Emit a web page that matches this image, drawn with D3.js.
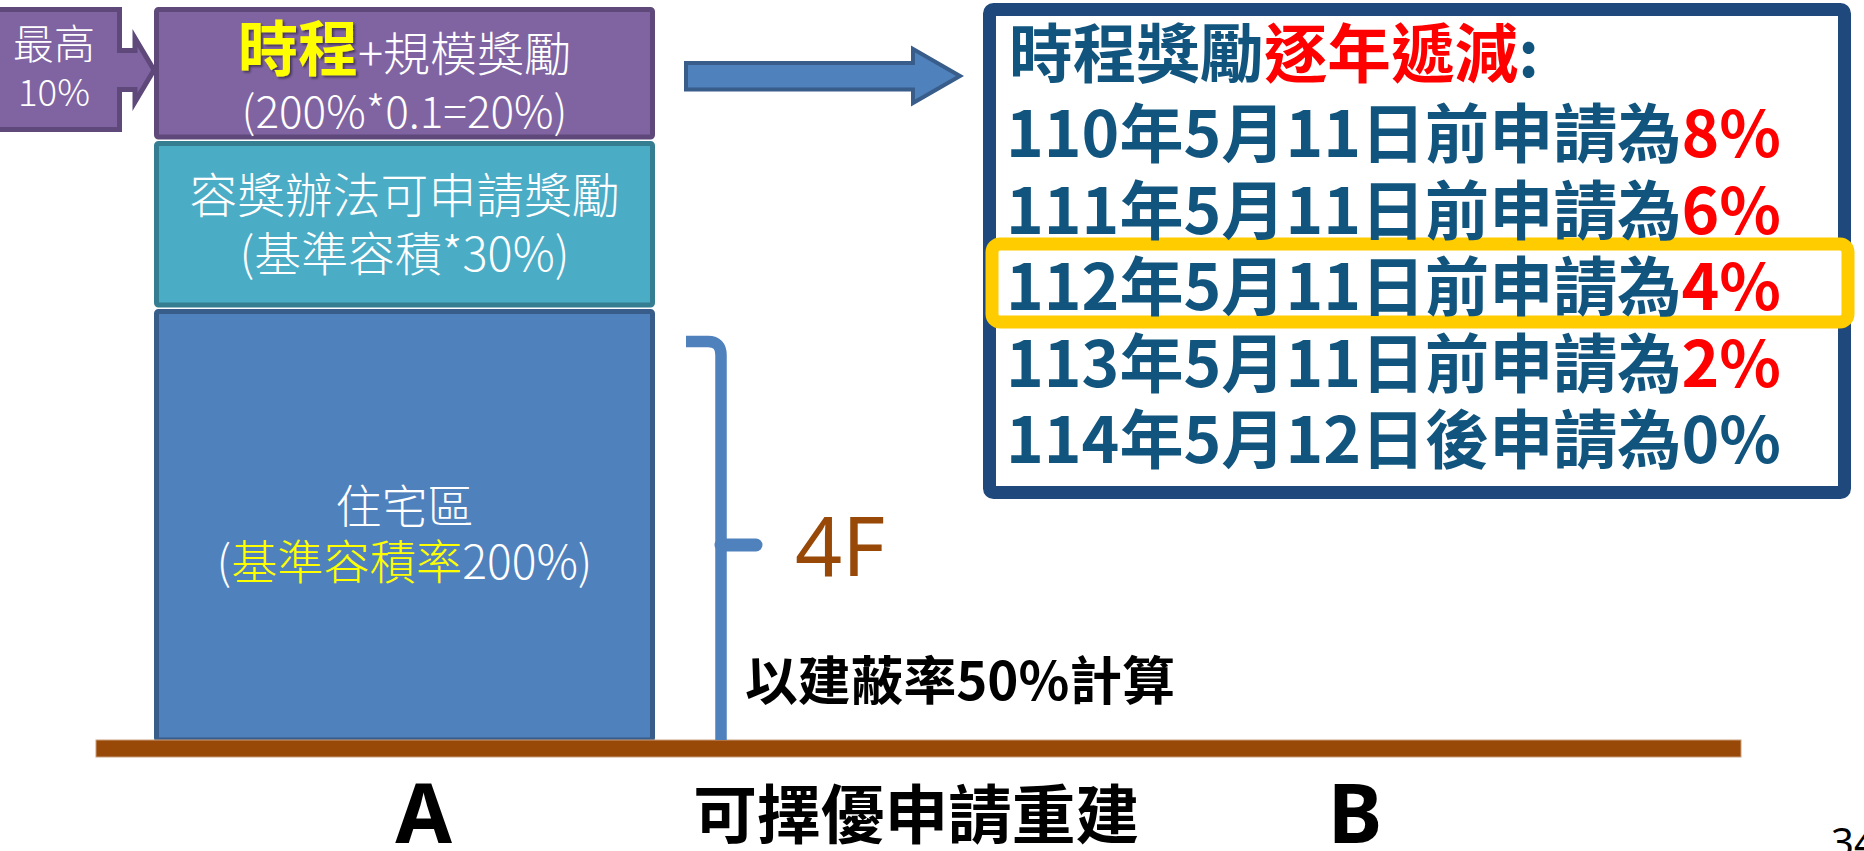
<!DOCTYPE html>
<html>
<head>
<meta charset="utf-8">
<script src="https://cdn.jsdelivr.net/npm/d3@7"></script>
<style>
  html, body { margin: 0; padding: 0; background: #fff; overflow: hidden; }
  svg { display: block; }
</style>
</head>
<body>
<div id="chart"></div>
<script>
// floor-area stack for site A (percent of base FAR)
const blockNames = ["住宅區", "容獎辦法可申請獎勵", "規模獎勵"];
const blockValues = [200, 30, 20];
const timeBonusFactor = 0.1;
const maxTimeBonus = 10;

// time-bonus schedule (ROC year)
const schedYears = [110, 111, 112, 113, 114];
const schedDays = ["5月11日", "5月11日", "5月11日", "5月11日", "5月12日"];
const schedWhen = ["前", "前", "前", "前", "後"];
const schedRates = [8, 6, 4, 2, 0];
const currentYear = 112;

const sites = ["A", "B"];
const floors = 4;
const coverage = 50;

const W = 1864, H = 851;
const cjk = "'Noto Sans CJK TC', 'Noto Sans CJK SC', sans-serif";
const txtBlue = "#11557f";

const svg = d3.select("#chart").append("svg")
  .attr("width", W).attr("height", H)
  .style("font-family", cjk);

const defs = svg.append("defs");
defs.append("filter").attr("id", "shadow")
  .append("feDropShadow")
  .attr("dx", 2).attr("dy", 2).attr("stdDeviation", 1)
  .attr("flood-color", "#000").attr("flood-opacity", 0.45);

// shrink or grow a text to a target width
function fit(sel, target) {
  const w = sel.node().getComputedTextLength();
  const fs = parseFloat(sel.attr("font-size"));
  sel.attr("font-size", fs * target / w);
  return sel;
}

// ---- stacked block ----
const cum = [0];
blockValues.forEach((v, i) => cum.push(cum[i] + v));
// piecewise scale: each segment gets its own drawing height
const y = d3.scaleLinear().domain(cum).range([744, 309, 141, 7]);
const x = d3.scalePoint().domain(sites).range([423.5, 1355]);
const stackX0 = 154, stackX1 = 655;
const sw = 5, gap = 1.5;

const fills = ["#4f81bd", "#4bacc6", "#8064a2"];
const strokes = ["#385d8a", "#357d91", "#5f497a"];

const blocks = blockValues.map((v, i) => ({
  name: blockNames[i], v, top: y(cum[i] + v), bot: y(cum[i])
}));

svg.append("g").selectAll("rect").data(blocks).join("rect")
  .attr("x", stackX0 + sw / 2)
  .attr("y", d => d.top + sw / 2)
  .attr("width", stackX1 - stackX0 - sw)
  .attr("height", d => d.bot - d.top - gap - sw)
  .attr("rx", 2)
  .attr("fill", (d, i) => fills[i])
  .attr("stroke", (d, i) => strokes[i])
  .attr("stroke-width", sw);

const cx = (stackX0 + stackX1) / 2;
const mid = d => (blocks[d].top + blocks[d].bot) / 2;
const light = g => g.attr("fill", "#fff").attr("font-weight", 300).attr("text-anchor", "middle");

// base block
let t = light(svg.append("text")).attr("x", cx).attr("y", mid(0) - 4).attr("font-size", 46)
  .text(blockNames[0]);
fit(t, 138);
t = light(svg.append("text")).attr("x", cx).attr("y", mid(0) + 52).attr("font-size", 46);
t.append("tspan").text("(");
t.append("tspan").attr("fill", "#ffff00").text("基準容積率");
t.append("tspan").text(blockValues[0] + "%)");
fit(t, 376);

// FAR bonus block
t = light(svg.append("text")).attr("x", cx).attr("y", mid(1) - 12).attr("font-size", 47)
  .text(blockNames[1]);
fit(t, 430);
t = light(svg.append("text")).attr("x", cx).attr("y", mid(1) + 46).attr("font-size", 47)
  .text("(基準容積*" + blockValues[1] + "%)");
fit(t, 330);

// time + scale bonus block
t = light(svg.append("text")).attr("x", cx).attr("y", mid(2) - 3);
t.append("tspan").attr("font-size", 60).attr("font-weight", 700).attr("fill", "#ffff00")
  .attr("filter", "url(#shadow)").text("時程");
t.append("tspan").attr("font-size", 47).text("+" + blockNames[2]);
t = light(svg.append("text")).attr("x", cx).attr("y", mid(2) + 54).attr("font-size", 43)
  .text("(" + blockValues[0] + "%*" + timeBonusFactor + "=" + blockValues[2] + "%)");
fit(t, 326);

// "max 10%" tag with arrow into the stack
const tag = d3.path();
tag.moveTo(-10, 9.5); tag.lineTo(119.5, 9.5); tag.lineTo(119.5, 50.5);
tag.lineTo(135, 50.5); tag.lineTo(135, 38); tag.lineTo(154, 70);
tag.lineTo(135, 102); tag.lineTo(135, 89.5); tag.lineTo(119.5, 89.5);
tag.lineTo(119.5, 129.5); tag.lineTo(-10, 129.5); tag.closePath();
svg.append("path").attr("d", tag.toString())
  .attr("fill", "#8064a2").attr("stroke", "#5f497a").attr("stroke-width", 5)
  .attr("stroke-linejoin", "miter");
t = light(svg.append("text")).attr("x", 54).attr("y", 59).attr("font-size", 42).text("最高");
fit(t, 82);
t = light(svg.append("text")).attr("x", 54).attr("y", 106).attr("font-size", 38).text(maxTimeBonus + "%");
fit(t, 72);

// ---- ground ----
svg.append("rect").attr("x", 96).attr("y", 740).attr("width", 1645).attr("height", 17)
  .attr("fill", "#984807").attr("stroke", "#c99e7e").attr("stroke-width", 1);

// brace for building height
const br = d3.path();
br.moveTo(686, 341.5); br.lineTo(708, 341.5);
br.quadraticCurveTo(721, 341.5, 721, 355);
br.lineTo(721, 740);
svg.append("path").attr("d", br.toString()).attr("fill", "none")
  .attr("stroke", "#4f81bd").attr("stroke-width", 11.5);
svg.append("path").attr("d", "M721,545 C730,545 735,545 756,545")
  .attr("fill", "none").attr("stroke", "#4f81bd").attr("stroke-width", 13)
  .attr("stroke-linecap", "round");

t = svg.append("text").attr("x", 840).attr("y", 576).attr("text-anchor", "middle")
  .attr("font-family", "'Noto Sans', sans-serif").attr("font-size", 86)
  .attr("fill", "#984807").text(floors + "F");
fit(t, 90);

t = svg.append("text").attr("x", 745).attr("y", 700).attr("font-size", 52)
  .attr("font-weight", 700).attr("fill", "#000")
  .text("以建蔽率" + coverage + "%計算");
fit(t, 430);

// site labels
svg.append("g").selectAll("text").data(sites).join("text")
  .attr("x", d => x(d)).attr("y", 843).attr("text-anchor", "middle")
  .attr("font-family", "'Noto Sans', 'DejaVu Sans', sans-serif")
  .attr("font-size", 82).attr("font-weight", 700).attr("fill", "#000")
  .text(d => d);
t = svg.append("text").attr("x", (x("A") + x("B")) / 2 + 27).attr("y", 838)
  .attr("text-anchor", "middle").attr("font-size", 62).attr("font-weight", 700)
  .attr("fill", "#000").text("可擇優申請重建");
fit(t, 446);

svg.append("text").attr("x", 1831).attr("y", 857).attr("font-size", 40)
  .attr("font-family", "'Noto Sans', sans-serif").attr("fill", "#000").text("34");

// ---- arrow to schedule ----
const ar = d3.path();
ar.moveTo(686, 63); ar.lineTo(913, 63); ar.lineTo(913, 49); ar.lineTo(960, 76);
ar.lineTo(913, 103); ar.lineTo(913, 89.5); ar.lineTo(686, 89.5); ar.closePath();
svg.append("path").attr("d", ar.toString())
  .attr("fill", "#4f81bd").attr("stroke", "#385d8a").attr("stroke-width", 4);

// ---- schedule panel ----
svg.append("rect").attr("x", 989.5).attr("y", 9.5).attr("width", 855).attr("height", 483)
  .attr("rx", 4).attr("fill", "#fff").attr("stroke", "#1f497d").attr("stroke-width", 13);

const rowY = d3.scalePoint().domain(schedYears).range([157, 463]);

svg.append("rect")
  .attr("x", 992).attr("y", rowY(currentYear) - 66)
  .attr("width", 856).attr("height", 78).attr("rx", 8)
  .attr("fill", "#fff").attr("stroke", "#ffcc00").attr("stroke-width", 13);

t = svg.append("text").attr("x", 1009).attr("y", 77).attr("font-size", 63)
  .attr("font-weight", 700).attr("fill", txtBlue);
t.append("tspan").text("時程獎勵");
t.append("tspan").attr("fill", "#ff0000").text("逐年遞減");
t.append("tspan").text(":");
fit(t, 530);

const rows = svg.append("g").selectAll("text").data(schedYears).join("text")
  .attr("x", 1006).attr("y", d => rowY(d)).attr("font-size", 64)
  .attr("font-weight", 700).attr("fill", txtBlue);
rows.append("tspan").text((d, i) => d + "年" + schedDays[i] + schedWhen[i] + "申請為");
rows.append("tspan").attr("fill", (d, i) => schedRates[i] > 0 ? "#ff0000" : txtBlue)
  .text((d, i) => schedRates[i] + "%");
const rw = rows.nodes()[0].getComputedTextLength();
rows.attr("font-size", 64 * 775 / rw);
</script>
</body>
</html>
